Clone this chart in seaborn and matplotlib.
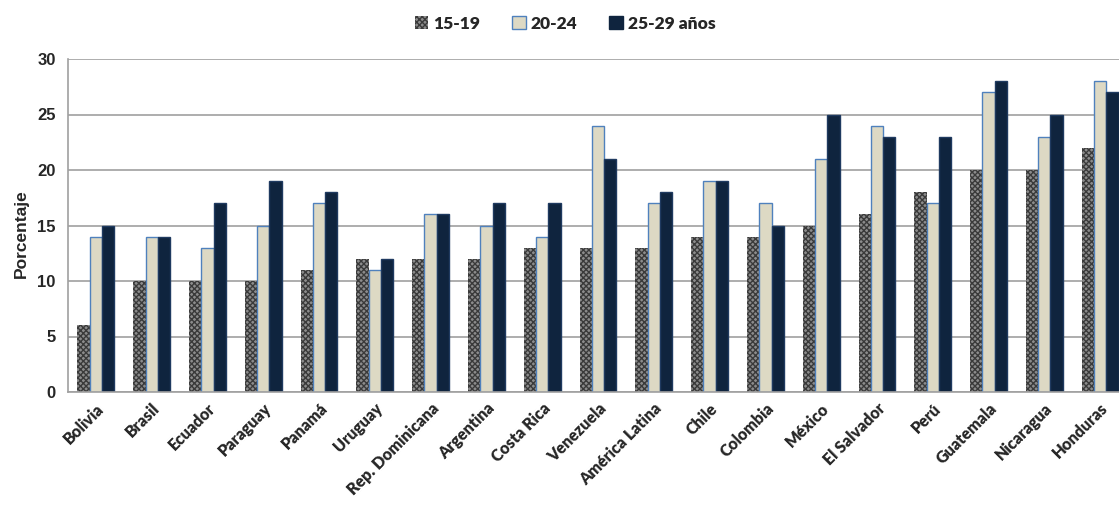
import matplotlib
matplotlib.use('Agg')
import pandas as pd
import matplotlib.pyplot as plt
import seaborn as sns
from matplotlib.ticker import MultipleLocator, FixedLocator
from matplotlib.font_manager import FontProperties

paises = ['Bolivia', 'Brasil', 'Ecuador', 'Paraguay', 'Panamá', 'Uruguay',
          'Rep. Dominicana', 'Argentina', 'Costa Rica', 'Venezuela',
          'América Latina', 'Chile', 'Colombia', 'México', 'El Salvador',
          'Perú', 'Guatemala', 'Nicaragua', 'Honduras']
g15_19 = [6, 10, 10, 10, 11, 12, 12, 12, 13, 13, 13, 14, 14, 15, 16, 18, 20, 20, 22]
g20_24 = [14, 14, 13, 15, 17, 11, 16, 15, 14, 24, 17, 19, 17, 21, 24, 17, 27, 23, 28]
g25_29 = [15, 14, 17, 19, 18, 12, 16, 17, 17, 21, 18, 19, 15, 25, 23, 23, 28, 25, 27]
grupos = ['15-19', '20-24', '25-29 años']

df = pd.DataFrame({
    'pais': paises * 3,
    'grupo': [grupos[0]] * 19 + [grupos[1]] * 19 + [grupos[2]] * 19,
    'valor': g15_19 + g20_24 + g25_29,
})

sns.set_style('white')
plt.rcParams['font.family'] = ['Lato', 'DejaVu Sans']
plt.rcParams['hatch.linewidth'] = 1.0

fig = plt.figure(figsize=(11.19, 5.08), dpi=100)
ax = fig.add_axes([68 / 1119, 1 - 392 / 508, 1060 / 1119, 333 / 508])

colores = ['#8c8c8c', '#ddd9c4', '#0f243e']
sns.barplot(data=df, x='pais', y='valor', hue='grupo', palette=colores,
            width=0.66, gap=0, ax=ax, saturation=1, legend=True)

# style the bars per group
edge = ['#3a3a3a', '#4f81bd', '#1f3a60']
for i, (cont, ec) in enumerate(zip(ax.containers, edge)):
    for b in cont:
        b.set_edgecolor(ec)
        b.set_linewidth(1.0)
        if i == 0:
            b.set_hatch('xxxxxx')
            b.set_linewidth(0)

ax.set_ylim(0, 30)
ax.set_xlim(-0.5, len(paises) - 0.5)
ax.yaxis.set_major_locator(MultipleLocator(5))
ax.grid(axis='y', color='#a0a0a0', linewidth=1.2)
ax.set_axisbelow(True)
for s in ['top', 'right']:
    ax.spines[s].set_visible(False)
for s in ['left', 'bottom']:
    ax.spines[s].set_color('#a0a0a0')
    ax.spines[s].set_linewidth(1.2)

arial_b = FontProperties(family='Liberation Sans', weight='bold', size=12)
ax.tick_params(axis='y', which='major', length=5, color='#a0a0a0', width=1.2, pad=4)
ax.set_yticks([0, 5, 10, 15, 20, 25, 30])
ax.set_yticklabels(['0', '5', '10', '15', '20', '25', '30'], fontproperties=arial_b)

ax.tick_params(axis='x', which='major', length=0, pad=6)
ax.xaxis.set_minor_locator(FixedLocator([i - 0.5 for i in range(len(paises) + 1)]))
ax.tick_params(axis='x', which='minor', length=5, color='#a0a0a0', width=1.2)
ax.set_xticks(range(len(paises)))
ax.set_xticklabels(paises, rotation=45, ha='right', rotation_mode='anchor',
                   fontsize=11.5, fontweight='heavy')

ax.set_xlabel('')
ax.set_ylabel('')
fig.text(0.012, 0.54, 'Porcentaje', rotation=90, ha='left', va='center',
         family='Liberation Sans', weight='bold', size=12.5)

ax.legend_.remove()
handles = [plt.Rectangle((0, 0), 1, 1, facecolor=colores[0], hatch='xxxxxx',
                         edgecolor='#3a3a3a', linewidth=0),
           plt.Rectangle((0, 0), 1, 1, facecolor=colores[1], edgecolor='#4f81bd'),
           plt.Rectangle((0, 0), 1, 1, facecolor=colores[2], edgecolor=colores[2])]
fig.legend(handles, grupos, loc='upper center', bbox_to_anchor=(0.505, 1.0),
           ncol=3, frameon=False, prop={'weight': 'heavy', 'size': 12.5},
           handlelength=0.8, handleheight=0.8, handletextpad=0.3,
           columnspacing=1.8)

fig.savefig('out.png', dpi=100)
